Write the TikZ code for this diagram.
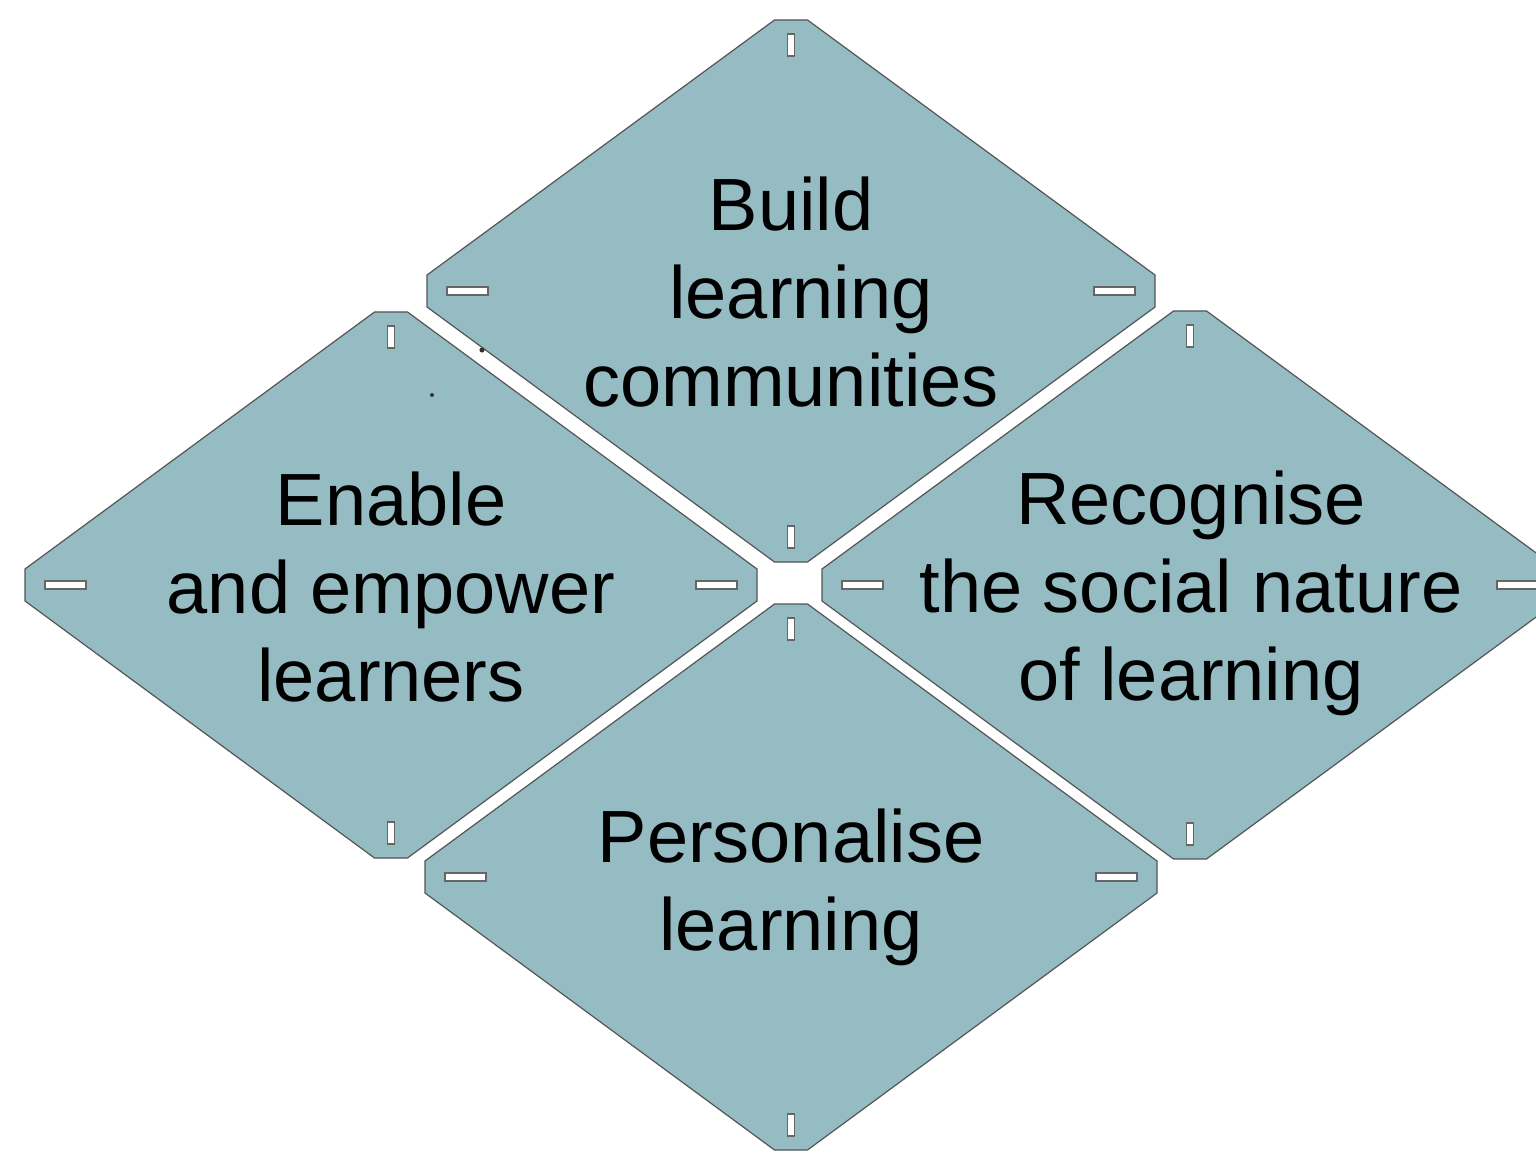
\documentclass[tikz,border=0pt]{standalone}
\usepackage{fontspec}
\setmainfont{Liberation Sans}
\definecolor{tilefill}{HTML}{95BBC3}
\definecolor{tileedge}{HTML}{555555}
\definecolor{slotedge}{HTML}{666666}
\tikzset{
  tilebox/.style={fill=tilefill, draw=tileedge, line width=0.6pt, line join=miter},
  slotbox/.style={fill=white, draw=slotedge, line width=0.8pt},
  label/.style={align=center, font=\fontsize{37}{44}\selectfont, text=black, inner sep=0pt},
  speck/.style={fill=black!80}
}
% #1 cx, #2 cy, #3 half-width, #4 half-height
\newcommand\mytile[4]{%
\begin{scope}[shift={(#1,#2)}]
\draw[tilebox] (-16.5,-#4) -- (16.5,-#4) -- (#3,-16) -- (#3,16) -- (16.5,#4) -- (-16.5,#4) -- (-#3,16) -- (-#3,-16) -- cycle;
\draw[slotbox] (-3.5,-#4+14) rectangle (3.5,-#4+36);
\draw[slotbox] (-3.5,#4-14) rectangle (3.5,#4-36);
\draw[slotbox] (-#3+20,-4) rectangle (-#3+61,4);
\draw[slotbox] (#3-20,-4) rectangle (#3-61,4);
\end{scope}}
\begin{document}
\begin{tikzpicture}[x=0.5pt,y=-0.5pt]
\useasboundingbox (0,0) rectangle (1536,1160);
\clip (0,0) rectangle (1536,1160);
\mytile{791}{291}{364}{271}
\mytile{391}{585}{366}{273}
\mytile{1190}{585}{368}{274}
\mytile{791}{877}{366}{273}
\node[label] (build) at (791,292) {Build\\\hspace*{10pt}learning\\communities};
\node[label] (enable) at (391,587) {Enable\\and empower\\learners};
\node[label] (recog) at (1191,593) {Recognise\\the social nature\\of learning};
\node[label] (pers) at (791,887) {Personalise\\learning};
\fill[speck] (482,350) circle (1.3pt);
\fill[speck] (432,395) circle (1pt);
\end{tikzpicture}
\end{document}
